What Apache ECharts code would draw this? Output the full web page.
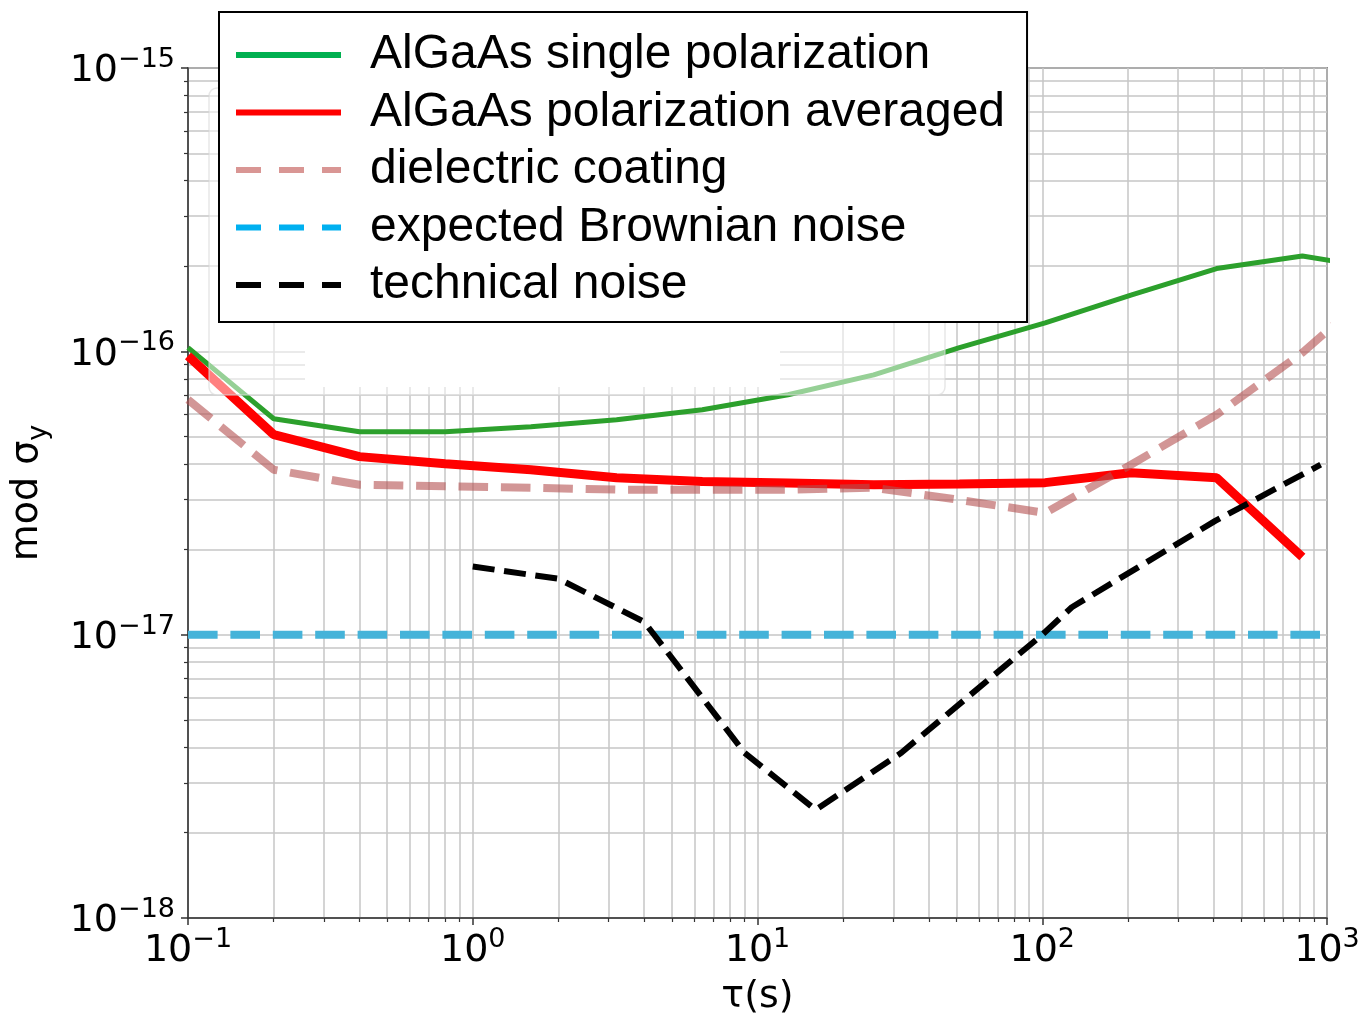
<!DOCTYPE html>
<html>
<head>
<meta charset="utf-8">
<title>mod sigma_y</title>
<script src="https://cdn.jsdelivr.net/npm/echarts@6/dist/echarts.min.js"></script>
<style>
  html, body { margin: 0; padding: 0; background: #fff; }
  #main { width: 1365px; height: 1013px; }
</style>
</head>
<body>
<div id="main"></div>
<script>
// averaging times tau (s)
var tau = [0.1, 0.2, 0.4, 0.8, 1.6, 3.2, 6.4, 12.8, 25.6, 51.2, 102.4, 204.8, 409.6, 819.2, 1638.4]
// mod sigma_y values, in units of 1e-18
var singlePol = [103, 57.8, 52.0, 52.0, 54.2, 57.4, 62.2, 70.3, 82.6, 103, 126, 158, 196, 217, 194]
var polAveraged = [96.4, 50.8, 42.5, 40.1, 38.2, 35.8, 34.7, 34.3, 33.8, 34.0, 34.4, 37.3, 35.8, 18.8]
var dielectric = [67.5, 38.2, 33.8, 33.4, 33.0, 32.5, 32.5, 32.5, 33.0, 29.9, 26.9, 39.8, 59.7, 98.9, 182]
var tauBrown = [0.1, 1000]
var brownian = [10, 10]
var tauTech = [1, 2, 4, 9, 16, 32, 100, 127, 405, 950]
var technical = [17.4, 15.75, 11.1, 3.83, 2.41, 3.83, 10.0, 12.5, 25.2, 39.8]

var names = [
  'AlGaAs single polarization',
  'AlGaAs polarization averaged',
  'dielectric coating',
  'expected Brownian noise',
  'technical noise'
]
var yScaleExp = -18

function pairs (xs, ys) {
  var out = []
  for (var i = 0; i < ys.length; i++) {
    out.push([xs[i], ys[i]])
  }
  return out
}

function powLabel (exp) {
  return '{b|10}{s|' + (exp < 0 ? '\u2212' : '') + Math.abs(exp) + '}'
}

var tickRich = {
  b: { fontFamily: 'DejaVu Sans', fontSize: 38, lineHeight: 50, color: '#000' },
  s: { fontFamily: 'DejaVu Sans', fontSize: 27, lineHeight: 27, verticalAlign: 'top', color: '#000' }
}

var gridLine = { color: '#c6c6c6', width: 1.5 }

var myChart = echarts.init(document.getElementById('main'))
var option = {
  animation: false,
  backgroundColor: '#fff',
  grid: {
    left: 188,
    right: 38,
    top: 68,
    bottom: 95,
    containLabel: false,
    outerBoundsMode: 'none',
    show: true,
    borderColor: '#333',
    borderWidth: 1.5
  },
  xAxis: {
    type: 'log',
    logBase: 10,
    min: 0.1,
    max: 1000,
    name: '\u03c4(s)',
    nameLocation: 'middle',
    nameGap: 60,
    nameTextStyle: { fontFamily: 'DejaVu Sans', fontSize: 38, color: '#000' },
    axisLine: { lineStyle: { color: '#333', width: 1.5 } },
    axisTick: { length: 7, lineStyle: { color: '#333', width: 1.5 } },
    minorTick: { show: true, splitNumber: 9, length: 4, lineStyle: { color: '#333', width: 1.2 } },
    splitLine: { show: true, lineStyle: gridLine },
    minorSplitLine: { show: true, lineStyle: gridLine },
    axisLabel: {
      margin: 8,
      formatter: function (v) { return powLabel(Math.round(Math.log10(v))) },
      rich: tickRich
    }
  },
  yAxis: {
    type: 'log',
    logBase: 10,
    min: 1,
    max: 1000,
    name: '{a|mod \u03c3}{y|y}',
    nameLocation: 'middle',
    nameGap: 136,
    nameTextStyle: {
      rich: {
        a: { fontFamily: 'DejaVu Sans', fontSize: 38, lineHeight: 50, color: '#000' },
        y: { fontFamily: 'DejaVu Sans', fontSize: 27, lineHeight: 27, verticalAlign: 'bottom', color: '#000' }
      }
    },
    axisLine: { lineStyle: { color: '#333', width: 1.5 } },
    axisTick: { length: 7, lineStyle: { color: '#333', width: 1.5 } },
    minorTick: { show: true, splitNumber: 9, length: 4, lineStyle: { color: '#333', width: 1.2 } },
    splitLine: { show: true, lineStyle: gridLine },
    minorSplitLine: { show: true, lineStyle: gridLine },
    axisLabel: {
      margin: 13,
      padding: [7, 0, 0, 0],
      formatter: function (v) { return powLabel(Math.round(Math.log10(v)) + yScaleExp) },
      rich: tickRich
    }
  },
  legend: {
    orient: 'vertical',
    zlevel: 2,
    left: 219,
    top: 12,
    padding: [19, 22, 13, 14],
    itemGap: 9.5,
    itemWidth: 105,
    itemHeight: 14,
    selectedMode: false,
    backgroundColor: '#fff',
    borderColor: '#000',
    borderWidth: 2,
    borderRadius: 0,
    itemStyle: { opacity: 0 },
    textStyle: { fontFamily: 'Liberation Sans', fontSize: 48, color: '#000', padding: [0, 0, 0, 24] },
    data: [
      { name: names[0], lineStyle: { color: '#00b050', width: 6, type: 'solid' } },
      { name: names[1], lineStyle: { color: '#ff0000', width: 6, type: 'solid' } },
      { name: names[2], lineStyle: { color: '#d99694', width: 6, type: [25, 18] } },
      { name: names[3], lineStyle: { color: '#00b0f0', width: 6, type: [25, 18] } },
      { name: names[4], lineStyle: { color: '#000000', width: 6, type: [25, 18] } }
    ]
  },
  // washed-out patch left behind in the original figure
  graphic: {
    elements: [
      {
        type: 'rect',
        zlevel: 1,
        z: 10,
        shape: { x: 209, y: 88, width: 736, height: 307, r: 8 },
        style: { fill: 'rgba(255,255,255,0.5)', stroke: 'rgba(215,215,215,0.6)', lineWidth: 1.5 }
      },
      {
        type: 'rect',
        zlevel: 1,
        z: 11,
        shape: { x: 305, y: 300, width: 475, height: 87 },
        style: { fill: '#fff' }
      }
    ]
  },
  series: [
    {
      name: names[0],
      type: 'line',
      symbol: 'none',
      data: pairs(tau, singlePol),
      lineStyle: { color: '#2ca02c', width: 5 },
      itemStyle: { color: '#2ca02c' }
    },
    {
      name: names[1],
      type: 'line',
      symbol: 'none',
      data: pairs(tau, polAveraged),
      lineStyle: { color: '#ff0000', width: 9 },
      itemStyle: { color: '#ff0000' }
    },
    {
      name: names[2],
      type: 'line',
      symbol: 'none',
      data: pairs(tau, dielectric),
      lineStyle: { color: 'rgba(180,80,80,0.6)', width: 8, type: [29.6, 12.8], cap: 'butt' },
      itemStyle: { color: 'rgba(180,80,80,0.6)' }
    },
    {
      name: names[3],
      type: 'line',
      symbol: 'none',
      data: pairs(tauBrown, brownian),
      lineStyle: { color: '#45b3d9', width: 8, type: [29.6, 12.8] },
      itemStyle: { color: '#45b3d9' }
    },
    {
      name: names[4],
      type: 'line',
      symbol: 'none',
      data: pairs(tauTech, technical),
      lineStyle: { color: '#000', width: 6, type: [22, 9.6] },
      itemStyle: { color: '#000' }
    }
  ]
}
myChart.setOption(option)
</script>
</body>
</html>
